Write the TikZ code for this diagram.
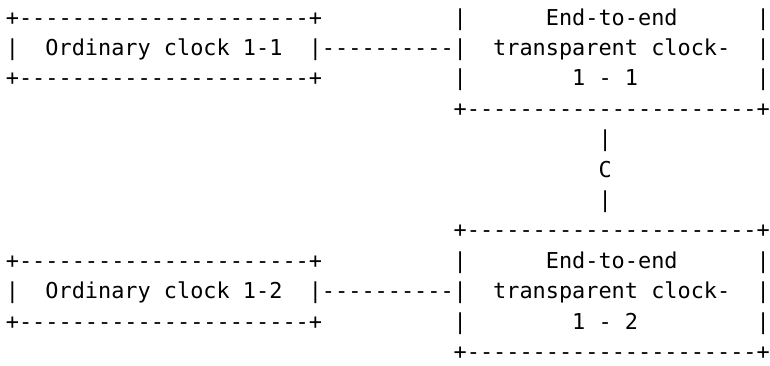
\documentclass[tikz,border=0pt]{standalone}
\usepackage{fontspec}
\setmonofont{DejaVu Sans Mono}
\begin{document}
\begin{tikzpicture}[x=13.17pt, y=-30.4pt,
  asc/.style={anchor=base west, inner sep=0pt, outer sep=0pt,
    font=\ttfamily\fontsize{21.88pt}{30.4pt}\selectfont, text=black}]
\useasboundingbox (-5.9pt,25pt) rectangle (764.1pt,-340pt);
% --- top pair ---
\node[asc] (oc1top) at (0,0) {+----------------------+};
\node[asc] (oc1l)   at (0,1) {|};
\node[asc] (oc1txt) at (3,1) {Ordinary clock 1-1};
\node[asc] (link1)  at (23,1) {|----------|};
\node[asc] (oc1bot) at (0,2) {+----------------------+};
\node[asc] (tc1l0)  at (34,0) {|};
\node[asc] (tc1t0)  at (41,0) {End-to-end};
\node[asc] (tc1r0)  at (57,0) {|};
\node[asc] (tc1t1)  at (37,1) {transparent clock-};
\node[asc] (tc1r1)  at (57,1) {|};
\node[asc] (tc1l2)  at (34,2) {|};
\node[asc] (tc1t2)  at (43,2) {1 - 1};
\node[asc] (tc1r2)  at (57,2) {|};
\node[asc] (tc1bot) at (34,3) {+----------------------+};
% --- vertical link C ---
\node[asc] (cv1) at (45,4) {|};
\node[asc] (cC)  at (45,5) {C};
\node[asc] (cv2) at (45,6) {|};
% --- bottom pair ---
\node[asc] (tc2top) at (34,7) {+----------------------+};
\node[asc] (oc2top) at (0,8) {+----------------------+};
\node[asc] (oc2l)   at (0,9) {|};
\node[asc] (oc2txt) at (3,9) {Ordinary clock 1-2};
\node[asc] (link2)  at (23,9) {|----------|};
\node[asc] (oc2bot) at (0,10) {+----------------------+};
\node[asc] (tc2l0)  at (34,8) {|};
\node[asc] (tc2t0)  at (41,8) {End-to-end};
\node[asc] (tc2r0)  at (57,8) {|};
\node[asc] (tc2t1)  at (37,9) {transparent clock-};
\node[asc] (tc2r1)  at (57,9) {|};
\node[asc] (tc2l2)  at (34,10) {|};
\node[asc] (tc2t2)  at (43,10) {1 - 2};
\node[asc] (tc2r2)  at (57,10) {|};
\node[asc] (tc2bot) at (34,11) {+----------------------+};
\end{tikzpicture}
\end{document}
